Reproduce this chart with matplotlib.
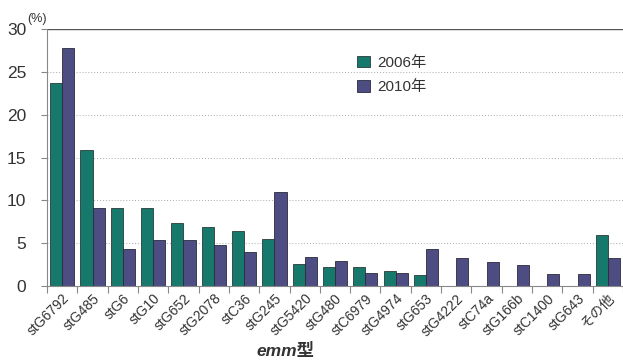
import numpy as np
import matplotlib
matplotlib.use("Agg")
import matplotlib.pyplot as plt

plt.rcParams['font.family'] = ['Liberation Sans', 'Noto Sans CJK JP']

categories = ["stG6792", "stG485", "stG6", "stG10", "stG652", "stG2078", "stC36",
              "stG245", "stG5420", "stG480", "stC6979", "stG4974", "stG653",
              "stG4222", "stC74a", "stG166b", "stC1400", "stG643", "その他"]
pct_2006 = [23.7, 15.9, 9.1, 9.1, 7.4, 6.9, 6.4, 5.5, 2.6, 2.2, 2.2, 1.7, 1.3,
            0, 0, 0, 0, 0, 5.9]
pct_2010 = [27.8, 9.1, 4.3, 5.3, 5.3, 4.8, 3.9, 11.0, 3.4, 2.9, 1.5, 1.5, 4.3,
            3.3, 2.8, 2.4, 1.4, 1.4, 3.3]

teal = "#16796b"
purple = "#4d4d84"

fig = plt.figure(figsize=(6.23, 3.6), dpi=100)
ax = fig.add_axes([0.0755, 0.206, 0.9245, 0.713])

x = np.arange(len(categories))
w = 0.4
ax.bar(x - w / 2, pct_2006, w, color=teal, edgecolor="#2a3a3a", linewidth=0.6, label="2006年")
ax.bar(x + w / 2, pct_2010, w, color=purple, edgecolor="#2a2a3a", linewidth=0.6, label="2010年")

ax.set_xlim(-0.5, len(categories) - 0.5)
ax.set_ylim(0, 30)
ax.set_yticks(np.arange(0, 31, 5))
ax.tick_params(axis="y", labelsize=12.5, colors="#888888", length=4, width=0.8,
               direction="out", pad=11)
for lbl in ax.get_yticklabels():
    lbl.set_color("#333333")

# category boundaries as ticks, labels centred on each group
ax.set_xticks(np.arange(-0.5, len(categories), 1.0))
ax.set_xticklabels([])
ax.tick_params(axis="x", which="major", length=5, width=0.8, colors="#888888")
ax.set_xticks(x, minor=True)
ax.set_xticklabels(categories, minor=True, rotation=45, ha="right",
                   rotation_mode="anchor", fontsize=10, color="#333333")
ax.tick_params(axis="x", which="minor", length=0, pad=4)

for y in range(5, 30, 5):
    ax.axhline(y, color="#aaaaaa", linestyle=(0, (1, 2)), linewidth=0.7, zorder=0)
ax.axhline(30, color="#555555", linewidth=1.0)

for s in ["top", "right"]:
    ax.spines[s].set_visible(False)
ax.spines["left"].set_color("#888888")
ax.spines["bottom"].set_color("#888888")

ax.legend(loc="upper left", bbox_to_anchor=(0.515, 0.95), frameon=False, fontsize=11,
          handlelength=0.8, handleheight=0.8, handletextpad=0.5, labelspacing=0.65,
          labelcolor="#333333")

fig.text(0.043, 0.94, "(%)", fontsize=9, color="#333333")
fig.text(0.412, 0.01, "emm型", fontsize=12.5, fontweight="bold", fontstyle="italic",
         color="#333333")

fig.savefig("out.png", dpi=100)
